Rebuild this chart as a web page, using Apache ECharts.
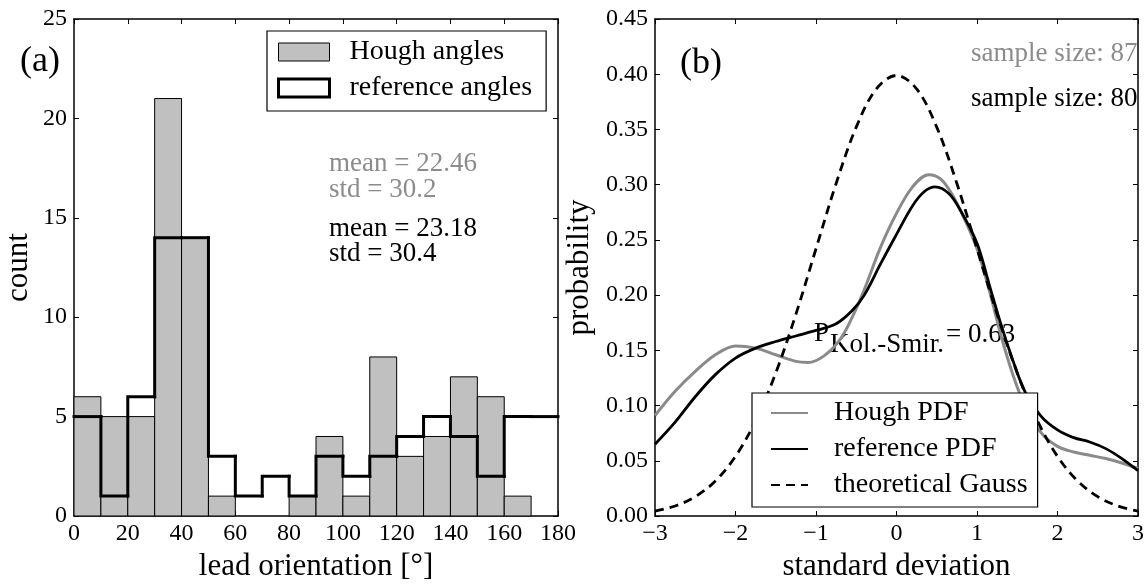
<!DOCTYPE html>
<html>
<head>
<meta charset="utf-8">
<title>Lead orientation histogram and PDF comparison</title>
<script src="https://cdn.jsdelivr.net/npm/echarts@6/dist/echarts.min.js"></script>
<style>
  html, body { margin: 0; padding: 0; background: #fff; }
  #chart { width: 1147px; height: 587px; }
</style>
</head>
<body>
<div id="chart"></div>
<script>
// ---- panel (a): histogram of lead orientations, 10° bins ----
const binEdges = [0, 10, 20, 30, 40, 50, 60, 70, 80, 90, 100, 110, 120, 130, 140, 150, 160, 170, 180];
const houghCounts = [6, 5, 5, 21, 14, 1, 0, 0, 1, 4, 1, 8, 3, 4, 7, 6, 1, 0];
const refCounts   = [5, 1, 6, 14, 14, 3, 1, 2, 1, 3, 2, 3, 4, 5, 4, 2, 5, 5];
const houghStats = ['mean = 22.46', 'std = 30.2'];
const refStats   = ['mean = 23.18', 'std = 30.4'];

// ---- panel (b): probability density curves over standard deviations ----
const houghPdf = [
  [-3.0, 0.091], [-2.75, 0.113], [-2.5, 0.131], [-2.25, 0.146], [-2.0, 0.154],
  [-1.75, 0.152], [-1.5, 0.146], [-1.25, 0.140], [-1.1, 0.139], [-0.9, 0.145],
  [-0.7, 0.160], [-0.55, 0.180], [-0.4, 0.205], [-0.2, 0.243], [0.0, 0.274],
  [0.2, 0.298], [0.4, 0.309], [0.55, 0.305], [0.7, 0.290], [0.85, 0.268],
  [1.0, 0.242], [1.15, 0.205], [1.3, 0.163], [1.45, 0.127], [1.6, 0.099],
  [1.8, 0.075], [2.0, 0.063], [2.2, 0.058], [2.4, 0.055], [2.6, 0.052],
  [2.8, 0.048], [3.0, 0.043]
];
const refPdf = [
  [-3.0, 0.065], [-2.75, 0.085], [-2.5, 0.108], [-2.25, 0.128], [-2.0, 0.143],
  [-1.75, 0.152], [-1.5, 0.158], [-1.25, 0.163], [-1.0, 0.168], [-0.75, 0.174],
  [-0.55, 0.186], [-0.4, 0.200], [-0.2, 0.228], [0.0, 0.255], [0.2, 0.281],
  [0.35, 0.294], [0.48, 0.298], [0.65, 0.292], [0.8, 0.276], [1.0, 0.247],
  [1.15, 0.210], [1.3, 0.173], [1.45, 0.140], [1.6, 0.112], [1.8, 0.090],
  [2.0, 0.078], [2.2, 0.071], [2.4, 0.067], [2.6, 0.061], [2.8, 0.052],
  [3.0, 0.041]
];
const gaussPdf = [
  [-3.0, 0.0044], [-2.75, 0.0091], [-2.5, 0.0175], [-2.25, 0.0317], [-2.0, 0.0540],
  [-1.75, 0.0863], [-1.5, 0.1295], [-1.25, 0.1826], [-1.0, 0.2420], [-0.75, 0.3011],
  [-0.5, 0.3521], [-0.25, 0.3867], [0.0, 0.3989], [0.25, 0.3867], [0.5, 0.3521],
  [0.75, 0.3011], [1.0, 0.2420], [1.25, 0.1826], [1.5, 0.1295], [1.75, 0.0863],
  [2.0, 0.0540], [2.25, 0.0317], [2.5, 0.0175], [2.75, 0.0091], [3.0, 0.0044]
];
const sampleSizes = ['sample size: 87', 'sample size: 80'];
const ksLabel = { sym: 'P', sub: 'Kol.-Smir.', value: '= 0.63' };

// ---- styling ----
const SERIF = '"Liberation Serif", "DejaVu Serif", serif';
const GRAY_TEXT = '#8c8c8c';
const GRAY_LINE = '#8a8a8a';
const BAR_FILL = '#c0c0c0';

const histBars = houghCounts.map((c, i) => [binEdges[i], binEdges[i + 1], c]);
const refSteps = refCounts.map((c, i) => [binEdges[i], binEdges[i + 1], c, i > 0 ? refCounts[i - 1] : c]);

function frameAxis(gridIndex, extra) {
  return Object.assign({
    gridIndex: gridIndex,
    type: 'value',
    axisLine: { show: true, onZero: false, lineStyle: { color: '#000', width: 1.5 } },
    axisTick: { show: true, inside: true, length: 5, lineStyle: { color: '#000', width: 1 } },
    splitLine: { show: false },
    axisLabel: { show: true, color: '#000', fontFamily: SERIF, fontSize: 24 },
    nameTextStyle: { color: '#000', fontFamily: SERIF, fontSize: 31 }
  }, extra);
}
const hideLabels = { show: false };
const minusFmt = v => (v < 0 ? '\u2212' + Math.abs(v) : String(v));

const chart = echarts.init(document.getElementById('chart'), null, { renderer: 'canvas' });

const option = {
  animation: false,
  backgroundColor: '#fff',
  grid: [
    { left: 74, top: 19, width: 484, height: 500 },
    { left: 655, top: 19, width: 488, height: 500 }
  ],
  xAxis: [
    frameAxis(0, { position: 'bottom', min: 0, max: 180, interval: 20,
      axisLabel: { color: '#000', fontFamily: SERIF, fontSize: 24, margin: 6 },
      name: 'lead orientation [\u00b0]', nameLocation: 'middle', nameGap: 35 }),
    frameAxis(0, { position: 'top', min: 0, max: 180, interval: 20, axisLabel: hideLabels }),
    frameAxis(1, { position: 'bottom', min: -3, max: 3, interval: 1,
      axisLabel: { color: '#000', fontFamily: SERIF, fontSize: 24, margin: 6, formatter: minusFmt },
      name: 'standard deviation', nameLocation: 'middle', nameGap: 35 }),
    frameAxis(1, { position: 'top', min: -3, max: 3, interval: 1, axisLabel: hideLabels })
  ],
  yAxis: [
    frameAxis(0, { position: 'left', min: 0, max: 25, interval: 5,
      axisLabel: { color: '#000', fontFamily: SERIF, fontSize: 24, margin: 7 },
      name: 'count', nameLocation: 'middle', nameGap: 40 }),
    frameAxis(0, { position: 'right', min: 0, max: 25, interval: 5, axisLabel: hideLabels }),
    frameAxis(1, { position: 'left', min: 0, max: 0.45, interval: 0.05,
      axisLabel: { color: '#000', fontFamily: SERIF, fontSize: 24, margin: 7, formatter: v => v.toFixed(2) },
      name: 'probability', nameLocation: 'middle', nameGap: 60 }),
    frameAxis(1, { position: 'right', min: 0, max: 0.45, interval: 0.05, axisLabel: hideLabels })
  ],
  legend: [
    {
      left: 267, top: 31,
      orient: 'vertical',
      padding: [7, 14, 9, 10],
      itemWidth: 51, itemHeight: 18, itemGap: 8,
      backgroundColor: '#fff', borderColor: '#000', borderWidth: 1.2, borderRadius: 0,
      textStyle: { color: '#000', fontFamily: SERIF, fontSize: 28, lineHeight: 28, padding: [0, 0, 0, 15] },
      data: [
        { name: 'Hough angles', icon: 'rect', itemStyle: { color: BAR_FILL, borderColor: '#000', borderWidth: 1 } },
        { name: 'reference angles', icon: 'rect', itemStyle: { color: '#fff', borderColor: '#000', borderWidth: 3 } }
      ],
      selectedMode: false
    },
    {
      left: 752, top: 393,
      orient: 'vertical',
      padding: [6, 10, 8, 18],
      itemWidth: 37, itemHeight: 14, itemGap: 8,
      backgroundColor: '#fff', borderColor: '#000', borderWidth: 1.2, borderRadius: 0,
      // line samples only: the marker drawn over each line sample is hidden
      itemStyle: { opacity: 0 },
      textStyle: { color: '#000', fontFamily: SERIF, fontSize: 28, lineHeight: 28, padding: [0, 0, 0, 21] },
      data: ['Hough PDF', 'reference PDF', 'theoretical Gauss'],
      selectedMode: false
    }
  ],
  series: [
    {
      name: 'Hough angles',
      type: 'custom',
      coordinateSystem: 'cartesian2d',
      xAxisIndex: 0, yAxisIndex: 0,
      encode: { x: [0, 1], y: [2] },
      itemStyle: { color: BAR_FILL, borderColor: '#000', borderWidth: 1 },
      renderItem: (params, api) => {
        const h = api.value(2);
        if (h <= 0) return null;
        const p0 = api.coord([api.value(0), h]);
        const p1 = api.coord([api.value(1), 0]);
        return {
          type: 'rect',
          shape: { x: p0[0], y: p0[1], width: p1[0] - p0[0], height: p1[1] - p0[1] },
          style: { fill: BAR_FILL, stroke: '#000', lineWidth: 1 }
        };
      },
      data: histBars,
      z: 2
    },
    {
      name: 'reference angles',
      type: 'custom',
      coordinateSystem: 'cartesian2d',
      xAxisIndex: 0, yAxisIndex: 0,
      encode: { x: [0, 1], y: [2] },
      itemStyle: { color: '#fff', borderColor: '#000', borderWidth: 3 },
      renderItem: (params, api) => {
        const x0 = api.value(0), x1 = api.value(1), h = api.value(2), prev = api.value(3);
        const a = api.coord([x0, prev]);
        const b = api.coord([x0, h]);
        const c = api.coord([x1, h]);
        return {
          type: 'polyline',
          shape: { points: [a, b, c] },
          style: { stroke: '#000', lineWidth: 3, fill: null, lineCap: 'square', lineJoin: 'miter' }
        };
      },
      data: refSteps,
      z: 3
    },
    {
      name: 'Hough PDF',
      type: 'line',
      xAxisIndex: 2, yAxisIndex: 2,
      data: houghPdf,
      smooth: 0.35,
      symbol: 'none',
      lineStyle: { color: GRAY_LINE, width: 3 },
      itemStyle: { color: GRAY_LINE },
      z: 2
    },
    {
      name: 'reference PDF',
      type: 'line',
      xAxisIndex: 2, yAxisIndex: 2,
      data: refPdf,
      smooth: 0.35,
      symbol: 'none',
      lineStyle: { color: '#000', width: 2.8 },
      itemStyle: { color: '#000' },
      z: 3
    },
    {
      name: 'theoretical Gauss',
      type: 'line',
      xAxisIndex: 2, yAxisIndex: 2,
      data: gaussPdf,
      smooth: 0.35,
      symbol: 'none',
      lineStyle: { color: '#000', width: 2.8, type: [9, 6] },
      itemStyle: { color: '#000' },
      z: 3
    }
  ],
  graphic: [
    { type: 'text', x: 40, y: 62, z: 10,
      style: { text: '(a)', fill: '#000', font: '36px ' + SERIF, textAlign: 'center', textVerticalAlign: 'middle' } },
    { type: 'text', x: 701, y: 64, z: 10,
      style: { text: '(b)', fill: '#000', font: '36px ' + SERIF, textAlign: 'center', textVerticalAlign: 'middle' } },
    { type: 'text', x: 329, y: 164, z: 10,
      style: { text: houghStats[0], fill: GRAY_TEXT, font: '27px ' + SERIF, textAlign: 'left', textVerticalAlign: 'middle' } },
    { type: 'text', x: 329, y: 190, z: 10,
      style: { text: houghStats[1], fill: GRAY_TEXT, font: '27px ' + SERIF, textAlign: 'left', textVerticalAlign: 'middle' } },
    { type: 'text', x: 329, y: 229, z: 10,
      style: { text: refStats[0], fill: '#000', font: '27px ' + SERIF, textAlign: 'left', textVerticalAlign: 'middle' } },
    { type: 'text', x: 329, y: 254, z: 10,
      style: { text: refStats[1], fill: '#000', font: '27px ' + SERIF, textAlign: 'left', textVerticalAlign: 'middle' } },
    { type: 'text', x: 971, y: 54, z: 10,
      style: { text: sampleSizes[0], fill: GRAY_TEXT, font: '27px ' + SERIF, textAlign: 'left', textVerticalAlign: 'middle' } },
    { type: 'text', x: 971, y: 99, z: 10,
      style: { text: sampleSizes[1], fill: '#000', font: '27px ' + SERIF, textAlign: 'left', textVerticalAlign: 'middle' } },
    { type: 'text', x: 814, y: 334, z: 1,
      style: { text: ksLabel.sym, fill: '#000', font: '27px ' + SERIF, textAlign: 'left', textVerticalAlign: 'middle' } },
    { type: 'text', x: 830, y: 345, z: 1,
      style: { text: ksLabel.sub, fill: '#000', font: '27px ' + SERIF, textAlign: 'left', textVerticalAlign: 'middle' } },
    { type: 'text', x: 946, y: 335, z: 1,
      style: { text: ksLabel.value, fill: '#000', font: '27px ' + SERIF, textAlign: 'left', textVerticalAlign: 'middle' } }
  ]
};

chart.setOption(option);
</script>
</body>
</html>
